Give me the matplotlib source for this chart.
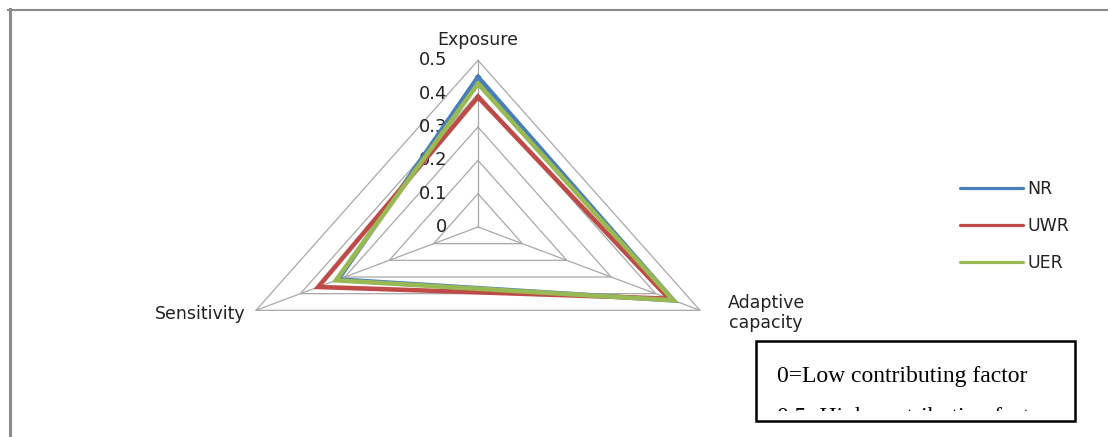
import numpy as np
import matplotlib
matplotlib.use("Agg")
import matplotlib.pyplot as plt
from matplotlib.lines import Line2D
from matplotlib.patches import Rectangle
from matplotlib.transforms import Bbox, TransformedBbox

# Radar values (0 = low, 0.5 = high contributing factor)
categories = ["Exposure", "Adaptive\ncapacity", "Sensitivity"]
series_names = ["NR", "UWR", "UER"]
nr_values = [0.45, 0.44, 0.315]
uwr_values = [0.39, 0.43, 0.36]
uer_values = [0.43, 0.44, 0.32]
ring_levels = [0.1, 0.2, 0.3, 0.4, 0.5]
tick_labels = ["0", "0.1", "0.2", "0.3", "0.4", "0.5"]

colors = ["#4A7EBB", "#BE4B48", "#98B954"]

W, H = 1108, 437
fig = plt.figure(figsize=(W / 100, H / 100), dpi=100)
fig.patch.set_facecolor("white")

# chart is stretched sideways, so x and y get different scales
cx, cy = 478, 227
sx, sy = 512.7, 333.3
ax = fig.add_axes([0, 0, 1, 1])
ax.set_xlim(-cx / sx, (W - cx) / sx)
ax.set_ylim(-(H - cy) / sy, cy / sy)
ax.axis("off")


def fpos(x, y):
    return x / W, 1 - y / H


theta = np.radians([0, 120, 240])


def polar_xy(values):
    r = np.asarray(values, dtype=float)
    x = r * np.sin(theta)
    y = r * np.cos(theta)
    return np.append(x, x[0]), np.append(y, y[0])


# grid rings and spokes
grid_col = "#a8a8a8"
for lv in ring_levels:
    gx, gy = polar_xy([lv] * 3)
    ax.plot(gx, gy, color=grid_col, lw=0.9, zorder=1)
for t in theta:
    ax.plot([0, 0.5 * np.sin(t)], [0, 0.5 * np.cos(t)], color=grid_col, lw=0.9, zorder=1)

# radial tick labels
for lv, lab in zip([0] + ring_levels, tick_labels):
    ax.annotate(lab, (0, lv), xytext=(-22, 0), textcoords="offset points",
                ha="right", va="center", fontsize=13, color="#222222")

# series
handles = []
for vals, name, col in zip([nr_values, uwr_values, uer_values], series_names, colors):
    px_, py_ = polar_xy(vals)
    ax.plot(px_, py_, color=col, lw=3.3, solid_joinstyle="miter", zorder=3)
    handles.append(Line2D([], [], color=col, lw=2.3, solid_capstyle="round", label=name))

# category labels
lab_kw = dict(fontsize=12.5, color="#222222", transform=fig.transFigure)
fig.text(*fpos(478, 40), categories[0], ha="center", va="center", **lab_kw)
fig.text(*fpos(766, 313), categories[1], ha="center", va="center",
         multialignment="center", linespacing=1.15, **lab_kw)
fig.text(*fpos(245, 314), categories[2], ha="right", va="center", **lab_kw)

leg = fig.legend(handles=handles, loc="upper left", bbox_to_anchor=fpos(960, 180),
                 bbox_transform=fig.transFigure, frameon=False, fontsize=12.5,
                 handlelength=3.6, handletextpad=0.3, labelspacing=1.1,
                 borderpad=0, borderaxespad=0)
for t in leg.get_texts():
    t.set_color("#222222")

# outer frame (top and left edges)
frame_col = "#8a8a8a"
fig.add_artist(Line2D([8 / W, 1], [1 - 9.5 / H] * 2, color=frame_col, lw=1.5,
                      transform=fig.transFigure))
fig.add_artist(Line2D([9.5 / W] * 2, [0, 1 - 8.5 / H], color=frame_col, lw=2.2,
                      transform=fig.transFigure))

# note box
x0, y0 = fpos(756, 421)
x1, y1 = fpos(1075, 341)
fig.add_artist(Rectangle((x0, y0), x1 - x0, y1 - y0, transform=fig.transFigure,
                         facecolor="white", edgecolor="black", lw=1.8, zorder=5))
clip = TransformedBbox(Bbox.from_extents(*fpos(757, 411), *fpos(1074, 342)),
                       fig.transFigure)
note_kw = dict(family="Liberation Serif", fontsize=17, color="black", ha="left",
               va="baseline", zorder=6)
fig.text(*fpos(777, 382), "0=Low contributing factor", **note_kw)
t2 = fig.text(*fpos(777, 423), "0.5=High contributing factor", **note_kw)
t2.set_clip_box(clip)
t2.set_clip_on(True)

fig.savefig("out.png", dpi=100, facecolor="white")
